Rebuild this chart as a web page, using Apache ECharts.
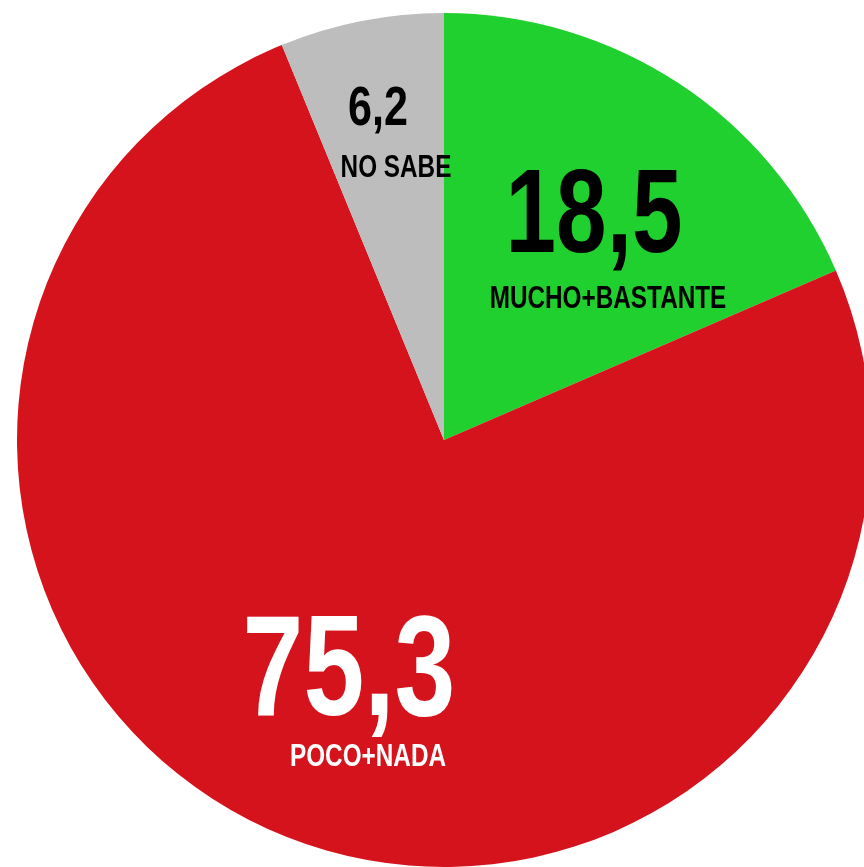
<!DOCTYPE html>
<html>
<head>
<meta charset="utf-8">
<script src="https://cdn.jsdelivr.net/npm/echarts@6/dist/echarts.min.js"></script>
<style>
  html, body { margin: 0; padding: 0; background: #fff; }
  #chart { width: 864px; height: 867px; }
</style>
</head>
<body>
<div id="chart"></div>
<script>
// datos de la encuesta (porcentajes)
const categories = ['MUCHO+BASTANTE', 'POCO+NADA', 'NO SABE']
const values = [18.5, 75.3, 6.2]
const valueLabels = ['18,5', '75,3', '6,2']

const colors = ['#1fd02e', '#d5131d', '#bdbdbd']
const textColors = ['#000', '#fff', '#000']

// posición de las etiquetas (número y nombre) dentro de cada sector
const labelPos = [
  { num: [594, 219], numSize: 118, name: [608, 299] },
  { num: [349, 676], numSize: 142, name: [368, 757] },
  { num: [378, 110], numSize: 56, name: [396, 168] }
]

const chart = echarts.init(document.getElementById('chart'))

// fuente condensada: Liberation Sans estrechada horizontalmente
const graphics = []
categories.forEach((c, i) => {
  const p = labelPos[i]
  graphics.push({
    type: 'text',
    z: 100,
    x: p.num[0],
    y: p.num[1],
    scaleX: 0.77,
    style: {
      text: valueLabels[i],
      fill: textColors[i],
      fontFamily: 'Liberation Sans',
      fontWeight: 'bold',
      fontSize: p.numSize,
      textAlign: 'center',
      textVerticalAlign: 'middle'
    }
  })
  graphics.push({
    type: 'text',
    z: 100,
    x: p.name[0],
    y: p.name[1],
    scaleX: 0.76,
    style: {
      text: c,
      fill: textColors[i],
      fontFamily: 'Liberation Sans',
      fontWeight: 'bold',
      fontSize: 32,
      textAlign: 'center',
      textVerticalAlign: 'middle'
    }
  })
})

chart.setOption({
  animation: false,
  color: colors,
  series: [{
    type: 'pie',
    center: [444, 440],
    radius: 427,
    startAngle: 90,
    clockwise: true,
    label: { show: false },
    labelLine: { show: false },
    itemStyle: { borderWidth: 0 },
    emphasis: { disabled: true },
    data: categories.map((c, i) => ({ name: c, value: values[i] }))
  }],
  graphic: graphics
})
</script>
</body>
</html>
